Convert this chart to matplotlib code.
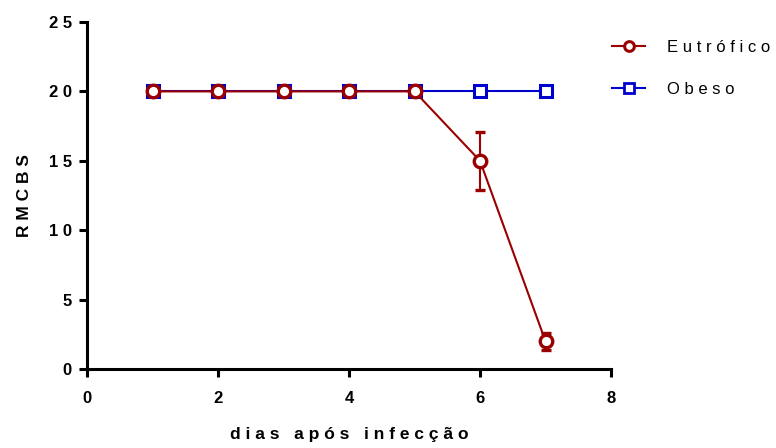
import matplotlib
matplotlib.use("Agg")
import matplotlib.pyplot as plt
from matplotlib.lines import Line2D

days = [1, 2, 3, 4, 5, 6, 7]
eutrofico = [20, 20, 20, 20, 20, 15, 2]
eutrofico_err = [0, 0, 0, 0, 0, 2.1, 0.6]
obeso = [20, 20, 20, 20, 20, 20, 20]
obeso_err = [0, 0, 0, 0, 0, 0, 0]
xticks = [0, 2, 4, 6, 8]
yticks = [0, 5, 10, 15, 20, 25]

def sp(s):
    return " ".join(s)

plt.rcParams['font.family'] = ['Liberation Sans', 'DejaVu Sans']

red = '#9b0000'
blue = '#0000cc'

fig = plt.figure(figsize=(7.76, 4.48), dpi=100)
ax = fig.add_axes([87/776, 79/448, 524/776, 347/448])

ax.errorbar(days, obeso, yerr=obeso_err, color=blue, lw=1.5, marker='s',
            ms=8, mfc='white', mec=blue, mew=2.2, capsize=0, zorder=2, clip_on=False)
ax.errorbar(days, eutrofico, yerr=eutrofico_err, color=red, lw=1.5, marker='o',
            ms=9, mfc='white', mec=red, mew=2.4, capsize=3.5, capthick=1.5,
            elinewidth=1.5, zorder=3, clip_on=False)

ax.set_xlim(0, 8)
ax.set_ylim(0, 25)
ax.set_xticks(xticks)
ax.set_yticks(yticks)
ax.set_xticklabels([sp(str(t)) for t in xticks], fontsize=12, fontweight='bold')
ax.set_yticklabels([sp(str(t)) for t in yticks], fontsize=12, fontweight='bold')
for s in ['top', 'right']:
    ax.spines[s].set_visible(False)
for s in ['left', 'bottom']:
    ax.spines[s].set_linewidth(2.2)
ax.tick_params(axis='both', direction='out', length=6, width=2.2)
ax.tick_params(axis='y', pad=5)
ax.tick_params(axis='x', pad=10)

ax.set_xlabel(sp("dias") + "   " + sp("após") + "   " + sp("infecção"),
              fontsize=12.5, fontweight='bold', labelpad=15)
ax.set_ylabel(sp("RMCBS"), fontsize=12.5, fontweight='bold', labelpad=12)

handles = [
    Line2D([], [], color=red, lw=1.5, marker='o', ms=7, mfc='white', mec=red, mew=2.2),
    Line2D([], [], color=blue, lw=1.5, marker='s', ms=6.5, mfc='white', mec=blue, mew=2.0),
]
leg = fig.legend(handles, [sp("Eutrófico"), sp("Obeso")], loc='upper left',
                 bbox_to_anchor=(597/776, 1 - 25/448), frameon=False,
                 fontsize=12, handlelength=2.0, labelspacing=1.6, handletextpad=1.3,
                 borderpad=0.4)

fig.savefig("out.png", dpi=100)
